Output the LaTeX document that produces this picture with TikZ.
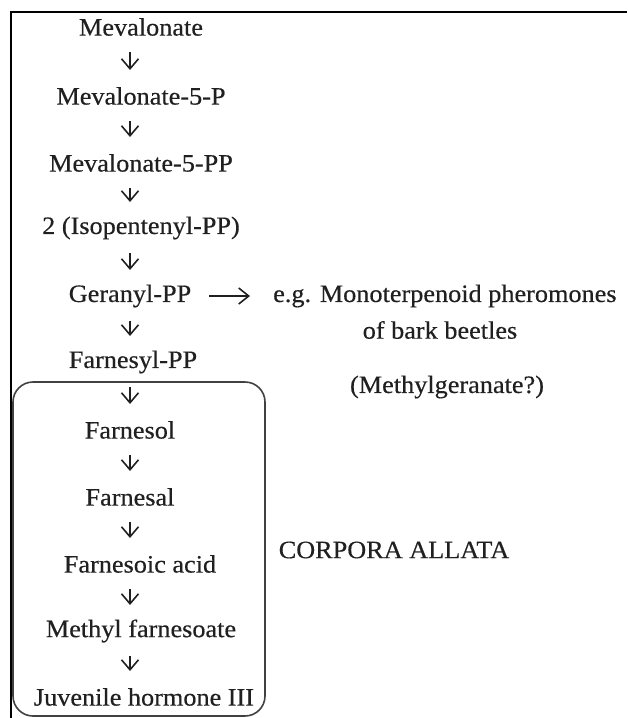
\documentclass[tikz,border=0pt]{standalone}
\usepackage{fontspec}
\setmainfont{Liberation Serif}[FakeStretch=1.05,FakeBold=0.4]
\usetikzlibrary{arrows.meta}
\definecolor{ink}{HTML}{202020}
\begin{document}
\begin{tikzpicture}[x=1pt,y=-1pt,
  lbl/.style={inner sep=0pt, text=ink, font=\fontsize{25}{30}\selectfont},
  darr/.style={draw=ink, line width=1.5pt, -{Straight Barb[length=10pt,width=17pt,line width=1.6pt]}},
  harr/.style={draw=ink, line width=1.5pt, -{Straight Barb[length=10pt,width=16pt,line width=1.6pt]}},
  frame/.style={draw=black, line width=2pt},
  cbox/.style={draw=ink!85, line width=1.6pt, rounded corners=20pt}]
\useasboundingbox (0,0) rectangle (627,718);
\draw[frame] (11,718) -- (11,12) -- (627,12);
\node[lbl] (m0) at (141,27) {Mevalonate};
\node[lbl] (m1) at (141,96) {Mevalonate-5-P};
\node[lbl] (m2) at (141,163) {Mevalonate-5-PP};
\node[lbl] (m3) at (141,228) {2 (Isopentenyl-PP)};
\node[lbl] (m4) at (130,296) {Geranyl-PP};
\node[lbl] (m5) at (133,362) {Farnesyl-PP};
\node[lbl] (m6) at (130,430) {Farnesol};
\node[lbl] (m7) at (130,497) {Farnesal};
\node[lbl] (m8) at (140,564) {Farnesoic acid};
\node[lbl] (m9) at (141,631) {Methyl farnesoate};
\node[lbl] (m10) at (144,697) {Juvenile hormone III};
\foreach \a/\b in {m0/m1,m1/m2,m2/m3,m3/m4,m4/m5,m5/m6,m6/m7,m7/m8,m8/m9,m9/m10}{
  \draw[darr] ([yshift=-25pt]\a.center -| m4.center) -- ([yshift=26pt]\b.center -| m4.center);
}
\node[lbl, anchor=west] (eg) at (273,296) {e.g. Monoterpenoid pheromones};
\node[lbl] (bb) at (440,330) {of bark beetles};
\node[lbl] (mg) at (447,387) {(Methylgeranate?)};
\node[lbl] (ca) at (394,550) {CORPORA ALLATA};
\draw[harr] ([xshift=18pt]m4.east) -- ([xshift=-23pt]eg.west);
\draw[cbox] (13,382) rectangle (265,716);
\end{tikzpicture}
\end{document}
